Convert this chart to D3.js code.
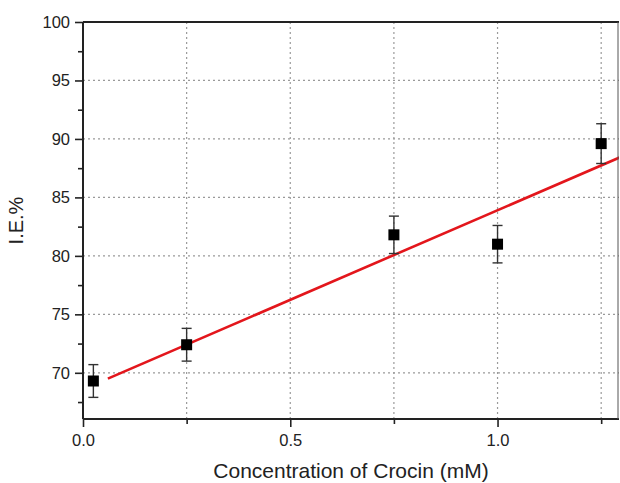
<!DOCTYPE html>
<meta charset="utf-8">
<script src="https://cdn.jsdelivr.net/npm/d3@7"></script>
<head>
	<title>I.E.% vs Concentration of Crocin</title>
	<style>
		body { margin: 0; background: #fff; }
		text { font-family: "Liberation Sans", Arial, sans-serif; fill: #222; }
		.grid line { stroke: #9a9a9a; stroke-width: 1.2; stroke-dasharray: 2,3; }
	</style>
</head>
<body>
	<div id="chart"></div>
	<script>
		// data
		var conc = [0.025, 0.25, 0.75, 1.0, 1.25];
		var ie = [69.3, 72.4, 81.8, 81.0, 89.6];
		var ieErr = [1.4, 1.4, 1.6, 1.6, 1.7];
		// linear fit, two end points
		var fitX = [0.06, 1.3];
		var fitY = [69.5, 88.5];
		var xMajor = [0, 0.5, 1.0];
		var xMinor = [0.25, 0.75, 1.25];
		var yMajor = [70, 75, 80, 85, 90, 95, 100];
		var yMinor = [67.5, 72.5, 77.5, 82.5, 87.5, 92.5, 97.5];

		var W = 620, H = 483;
		var margin = {top: 22, right: 1, bottom: 64, left: 83},
			width = W - margin.left - margin.right,
			height = H - margin.top - margin.bottom;

		var svg = d3.select("#chart").append("svg")
			.attr("width", W).attr("height", H);
		var g = svg.append("g")
			.attr("transform", "translate(" + margin.left + "," + margin.top + ")");

		var x = d3.scaleLinear().domain([0, 1.293]).range([0, width]);
		var y = d3.scaleLinear().domain([66.05, 100]).range([height, 0]);

		// grid lines
		var grid = g.append("g").attr("class", "grid");
		grid.selectAll(".vx").data([0.25, 0.5, 0.75, 1.0, 1.25]).enter().append("line")
			.attr("x1", d => x(d)).attr("x2", d => x(d))
			.attr("y1", 0).attr("y2", height);
		grid.selectAll(".hy").data([70, 75, 80, 85, 90, 95]).enter().append("line")
			.attr("x1", 0).attr("x2", width)
			.attr("y1", d => y(d)).attr("y2", d => y(d));

		// clip for the fit line
		svg.append("clipPath").attr("id", "clip")
			.append("rect").attr("width", width).attr("height", height);

		var line = d3.line().x(d => x(d[0])).y(d => y(d[1]));
		g.append("path")
			.datum(d3.zip(fitX, fitY))
			.attr("clip-path", "url(#clip)")
			.attr("d", line)
			.attr("fill", "none")
			.attr("stroke", "#e3161c")
			.attr("stroke-width", 2.6);

		// error bars
		var pts = d3.zip(conc, ie, ieErr);
		var eb = g.append("g").attr("stroke", "#333").attr("stroke-width", 1.4);
		eb.selectAll(".v").data(pts).enter().append("line")
			.attr("x1", d => x(d[0])).attr("x2", d => x(d[0]))
			.attr("y1", d => y(d[1] - d[2])).attr("y2", d => y(d[1] + d[2]));
		eb.selectAll(".t").data(pts).enter().append("line")
			.attr("x1", d => x(d[0]) - 5).attr("x2", d => x(d[0]) + 5)
			.attr("y1", d => y(d[1] + d[2])).attr("y2", d => y(d[1] + d[2]));
		eb.selectAll(".b").data(pts).enter().append("line")
			.attr("x1", d => x(d[0]) - 5).attr("x2", d => x(d[0]) + 5)
			.attr("y1", d => y(d[1] - d[2])).attr("y2", d => y(d[1] - d[2]));

		// square markers
		g.selectAll(".pt").data(pts).enter().append("rect")
			.attr("x", d => x(d[0]) - 5.5).attr("y", d => y(d[1]) - 5.5)
			.attr("width", 11).attr("height", 11)
			.attr("fill", "#000");

		// axes
		var xAxis = g.append("g").attr("transform", "translate(0," + height + ")")
			.call(d3.axisBottom(x).tickValues(xMajor).tickFormat(d3.format(".1f")).tickSize(8).tickPadding(7));
		g.append("g").attr("transform", "translate(0," + height + ")")
			.call(d3.axisBottom(x).tickValues(xMinor).tickFormat("").tickSize(5));
		var yAxis = g.append("g")
			.call(d3.axisLeft(y).tickValues(yMajor).tickFormat(d3.format("d")).tickSize(8).tickPadding(5));
		g.append("g")
			.call(d3.axisLeft(y).tickValues(yMinor).tickFormat("").tickSize(5));

		g.selectAll(".domain").remove();
		g.selectAll(".tick line").attr("stroke", "#222").attr("stroke-width", 1.6);
		g.selectAll(".tick text").style("font-size", "16.5px").attr("fill", "#222");

		// frame
		g.append("line").attr("x1", 0).attr("x2", width).attr("y1", height).attr("y2", height)
			.attr("stroke", "#222").attr("stroke-width", 2);
		g.append("line").attr("x1", 0).attr("x2", width).attr("y1", 0).attr("y2", 0)
			.attr("stroke", "#222").attr("stroke-width", 2);
		g.append("line").attr("x1", 0).attr("x2", 0).attr("y1", 0).attr("y2", height)
			.attr("stroke", "#222").attr("stroke-width", 2);
		g.append("line").attr("x1", width - 1).attr("x2", width - 1).attr("y1", 0).attr("y2", height)
			.attr("stroke", "#555").attr("stroke-width", 1);

		// axis titles
		svg.append("text")
			.attr("x", margin.left + width / 2).attr("y", 478)
			.attr("text-anchor", "middle")
			.style("font-size", "21px")
			.text("Concentration of Crocin (mM)");
		svg.append("text")
			.attr("transform", "translate(23," + (margin.top + height / 2) + ") rotate(-90)")
			.attr("text-anchor", "middle")
			.style("font-size", "20px")
			.text("I.E.%");
	</script>
</body>
